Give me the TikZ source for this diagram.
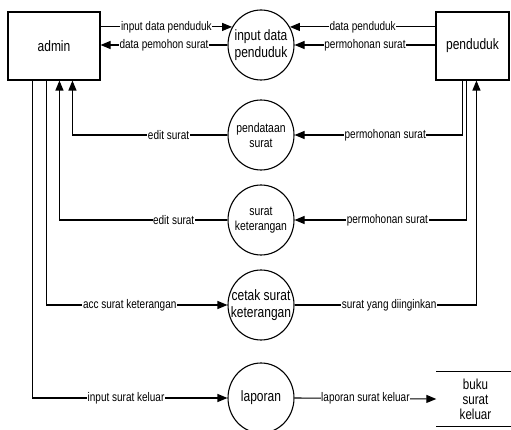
\documentclass[tikz,border=0pt]{standalone}
\usepackage{fontspec}
\setmainfont{Liberation Sans}[FakeStretch=0.8]
\usetikzlibrary{arrows.meta, positioning, shapes.geometric}

\tikzset{
  entity/.style={draw, line width=1.1pt, minimum width=92pt, minimum height=68pt, font=\fontsize{15}{16}\selectfont},
  proc/.style={draw, ellipse, line width=1.1pt, minimum width=66pt, minimum height=70pt, inner sep=-8pt, align=center, font=\fontsize{15}{16.5}\selectfont},
  small/.style={font=\fontsize{13}{15}\selectfont},
  store/.style={minimum width=78pt, minimum height=54pt, align=center, font=\fontsize{14.5}{15}\selectfont},
  lbl/.style={fill=white, inner sep=0.6pt, font=\fontsize{12.5}{13}\selectfont},
  flow/.style={line width=1.1pt, -{Triangle[length=10pt,width=8pt]}}
}

\begin{document}
\begin{tikzpicture}[x=1pt, y=-1pt]
  \useasboundingbox (0,0) rectangle (511,430);

  % external entities
  \node[entity] (admin) at (54,46) {admin};
  \node[entity, minimum width=73pt] (pend) at (472.5,46) {penduduk};

  % processes
  \node[proc] (in1) at (261,45) {input data\\penduduk};
  \node[proc, small] (pend2) at (261,135) {pendataan\\surat};
  \node[proc, small] (surk) at (261,220) {surat\\keterangan};
  \node[proc] (cetak) at (261,305) {cetak surat\\keterangan};
  \node[proc] (lap) at (261,398) {laporan};

  % data store
  \node[store] (buku) at (475.5,399) {buku\\surat\\keluar};
  \draw[line width=1.1pt] (buku.north west) -- (buku.north east)
                          (buku.south west) -- (buku.south east);

  % drop points under the entities
  \coordinate (a1) at ([xshift=25pt]admin.south west);
  \coordinate (a2) at ([xshift=39pt]admin.south west);
  \coordinate (a3) at ([xshift=52pt]admin.south west);
  \coordinate (a4) at ([xshift=65pt]admin.south west);
  \coordinate (p1) at ([xshift=27pt]pend.south west);
  \coordinate (p2) at ([xshift=31pt]pend.south west);
  \coordinate (p3) at ([xshift=41pt]pend.south west);

  % flows
  \draw[flow] (admin.east |- in1.148) -- node[lbl] {input data penduduk} (in1.148);
  \draw[flow] (in1.west) -- node[lbl] {data pemohon surat} (admin.east |- in1.west);
  \draw[flow] (pend.west |- in1.32) -- node[lbl] {data penduduk} (in1.32);
  \draw[flow] (pend.west |- in1.east) -- node[lbl] {permohonan surat} (in1.east);
  \draw[flow] (pend2.west) -| node[lbl, pos=0.19] {edit surat} (a4);
  \draw[flow] (surk.west) -| node[lbl, pos=0.16] {edit surat} (a3);
  \draw[flow] (p1) |- node[lbl, pos=0.73] {permohonan surat} (pend2.east);
  \draw[flow] (p2) |- node[lbl, pos=0.73] {permohonan surat} (surk.east);
  \draw[flow] (a2) |- node[lbl, pos=0.73] {acc surat keterangan} (cetak.west);
  \draw[flow] (cetak.east) -| node[lbl, pos=0.26] {surat yang diinginkan} (p3);
  \draw[flow] (a1) |- node[lbl, pos=0.74] {input surat keluar} (lap.west);
  \draw[flow] (lap.east) -- node[lbl] {laporan surat keluar} (buku.west);
\end{tikzpicture}
\end{document}
